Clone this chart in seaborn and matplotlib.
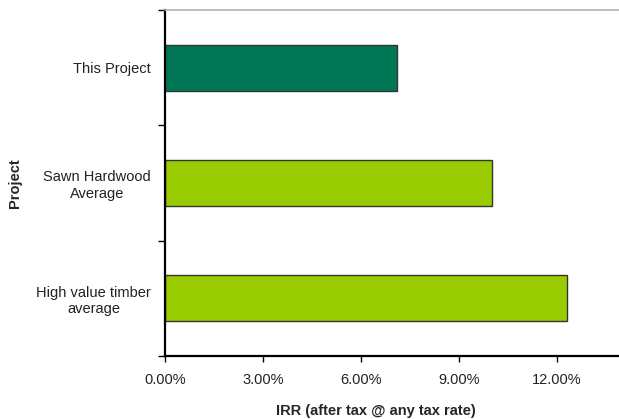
import matplotlib

matplotlib.use("Agg")
import matplotlib.pyplot as plt
import matplotlib.ticker as mticker
import pandas as pd
import seaborn as sns

projects = ["This Project", "Sawn Hardwood\nAverage", "High value timber\naverage"]
irr = [0.071, 0.100, 0.123]
bar_colors = ["#007856", "#99CC00", "#99CC00"]
x_ticks = [0.0, 0.03, 0.06, 0.09, 0.12]

sns.set_style("white")
plt.rcParams["font.family"] = ["Liberation Sans", "DejaVu Sans"]

df = pd.DataFrame({"project": projects, "irr": irr})

fig = plt.figure(figsize=(6.19, 4.19), dpi=100)
ax = fig.add_axes([0.2666, 0.1504, 0.7334, 0.8257])

sns.barplot(
    data=df,
    x="irr",
    y="project",
    hue="project",
    palette=dict(zip(projects, bar_colors)),
    saturation=1,
    orient="h",
    width=0.4,
    edgecolor="#333333",
    linewidth=1.0,
    legend=False,
    ax=ax,
)

ax.set_xlim(0, 0.139)
ax.set_ylim(2.5, -0.5)
ax.set_xticks(x_ticks)
ax.xaxis.set_major_formatter(mticker.FuncFormatter(lambda v, _: f"{v * 100:.2f}%"))

# category labels sit between the boundary ticks
ax.set_yticks([-0.5, 0.5, 1.5, 2.5])
ax.set_yticklabels([])
ax.set_yticks(range(len(projects)), minor=True)
ax.set_yticklabels(projects, minor=True, multialignment="center")
ax.tick_params(axis="y", which="minor", length=0, pad=10, labelsize=10.5, labelcolor="#222222")
ax.tick_params(axis="y", which="major", direction="out", length=5, width=1, color="black", left=True)
ax.tick_params(axis="x", direction="out", length=4, width=1, color="black", bottom=True,
               labelsize=10.5, labelcolor="#222222", pad=8)

for side in ("left", "bottom"):
    ax.spines[side].set_color("black")
    ax.spines[side].set_linewidth(1.6)
ax.spines["top"].set_color("#b3b3b3")
ax.spines["top"].set_linewidth(1.2)
ax.spines["right"].set_visible(False)

ax.set_xlabel("IRR (after tax @ any tax rate)", fontsize=10.5, fontweight="bold")
ax.set_ylabel("Project", fontsize=10.5, fontweight="bold")
ax.xaxis.set_label_coords(0.465, -0.14)
ax.yaxis.set_label_coords(-0.315, 0.5)

fig.savefig("out.png", dpi=100)
